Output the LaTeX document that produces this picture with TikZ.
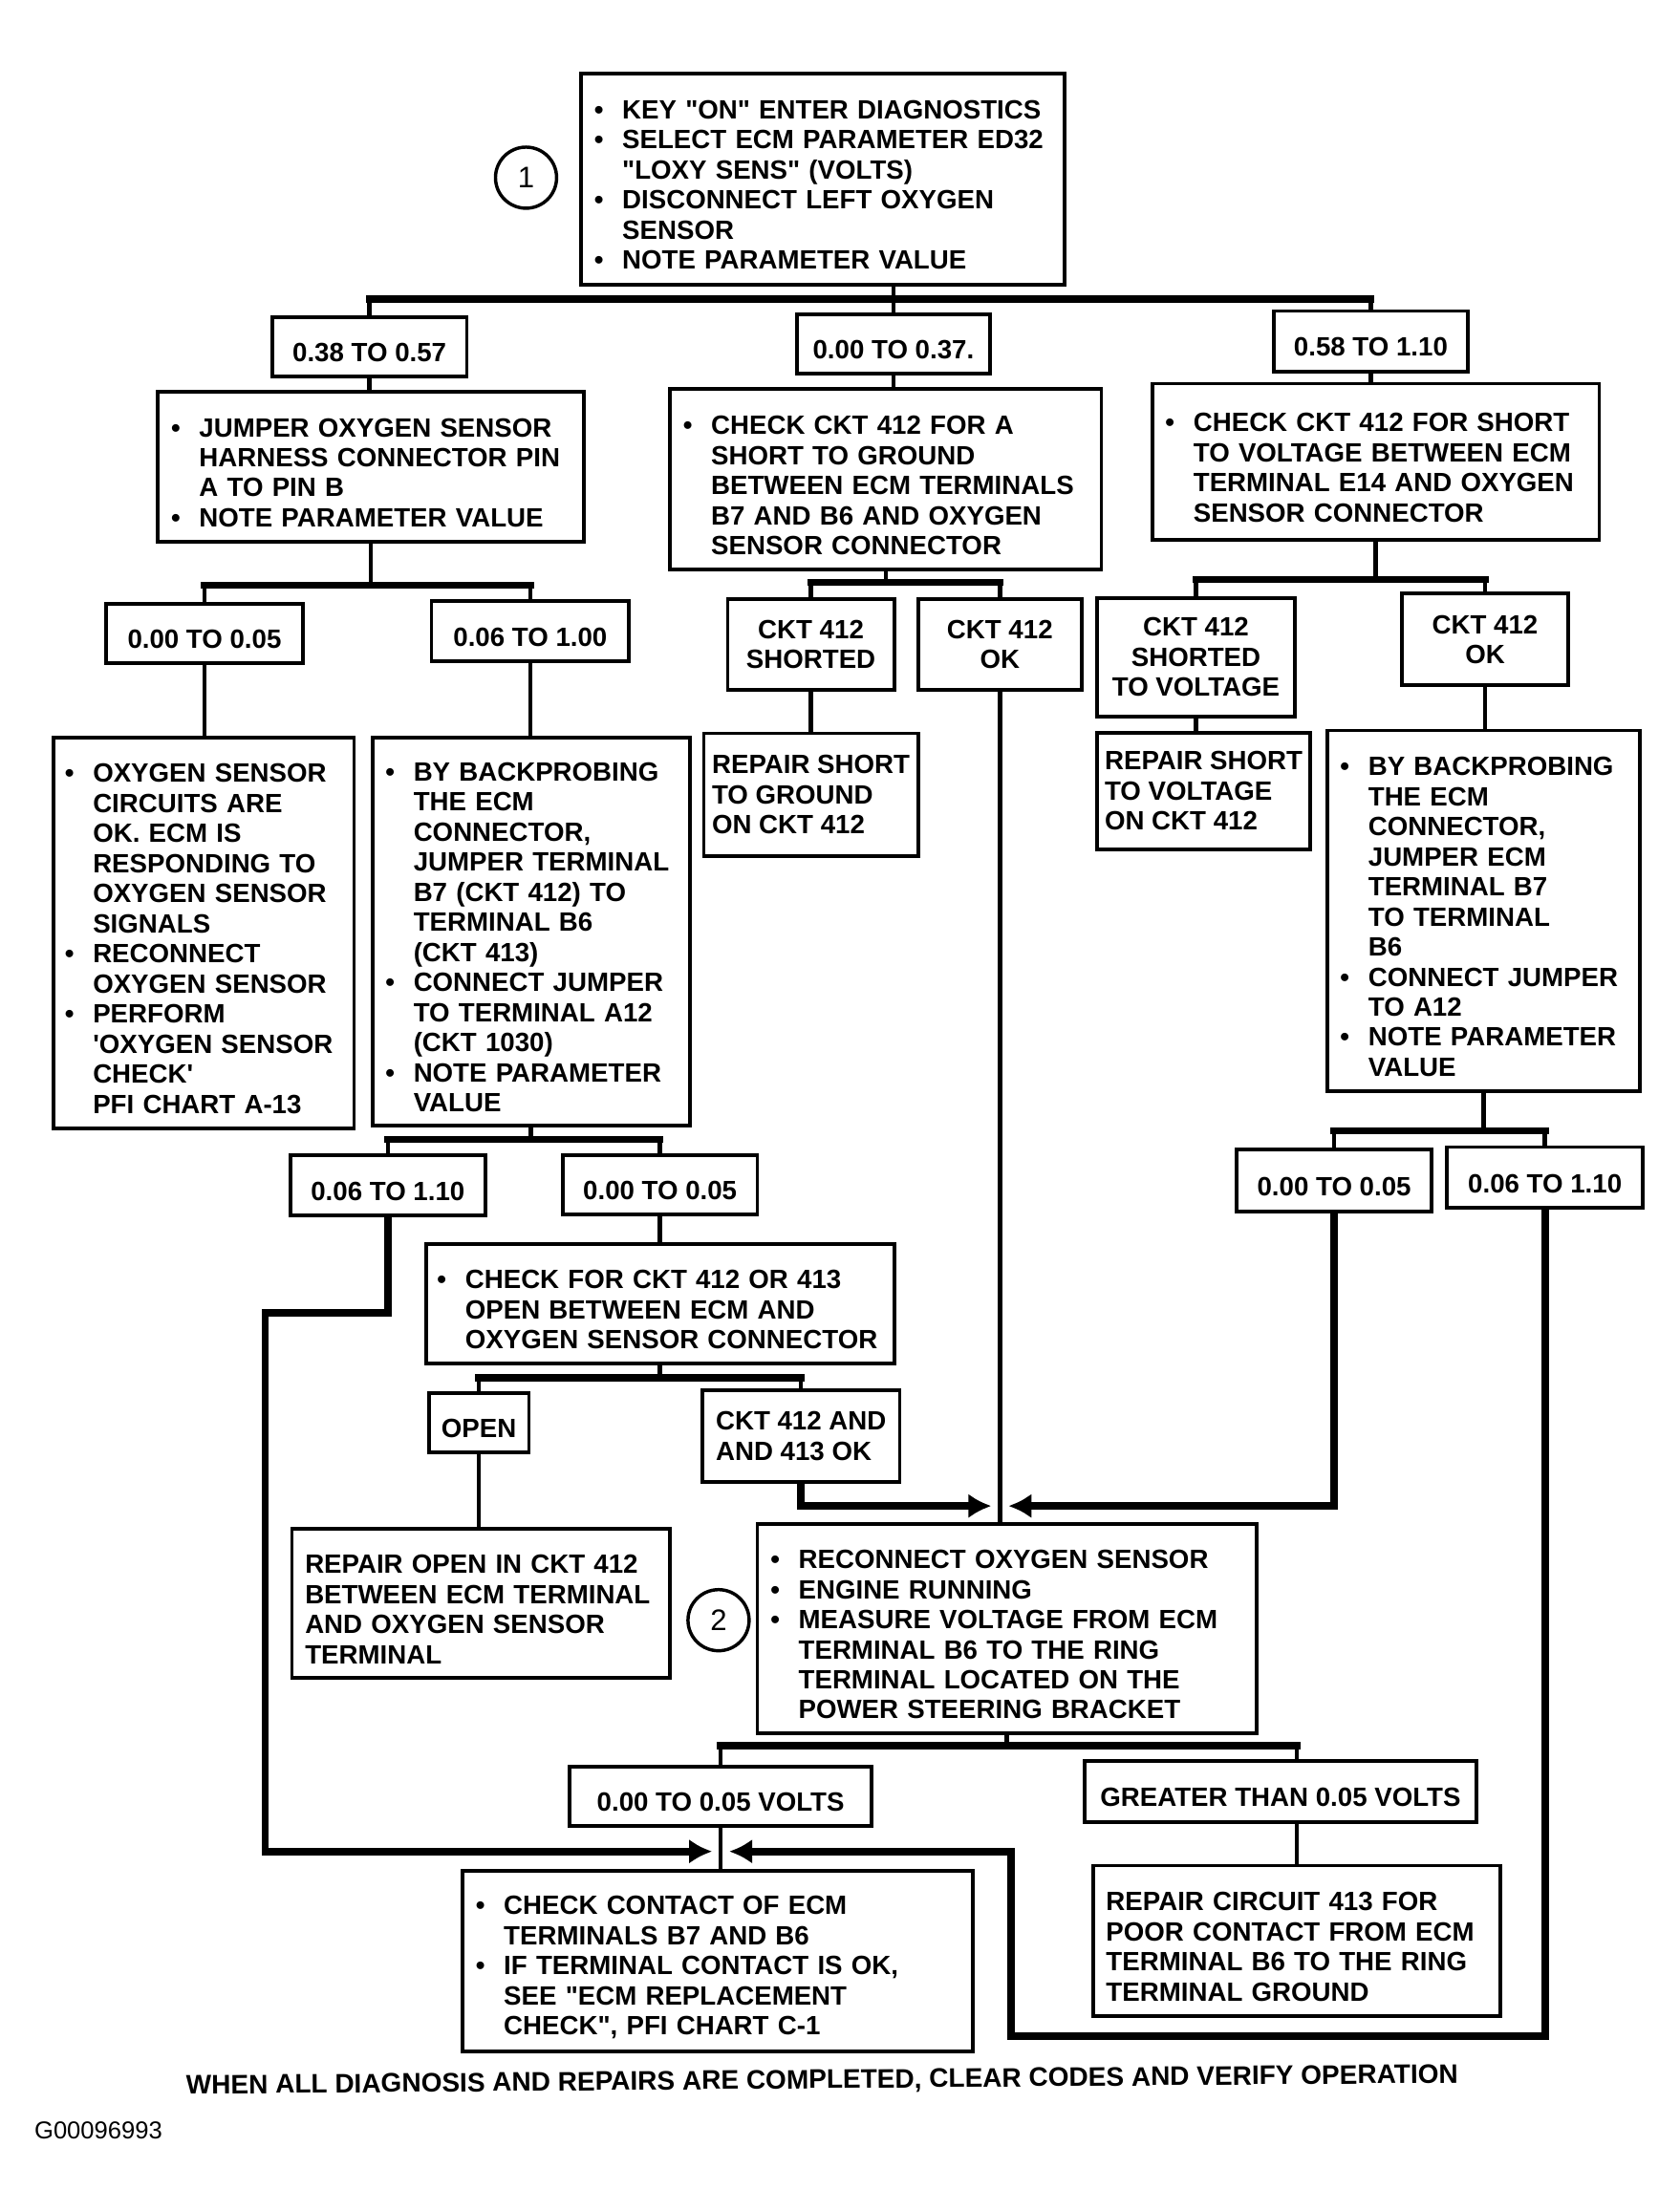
\documentclass[tikz,border=0pt]{standalone}
\usepackage{fontspec}
\setmainfont{Liberation Sans}
\usetikzlibrary{arrows.meta}

\newcommand{\blt}{\makebox[8.5pt][l]{\textbullet}}
\newcommand{\hng}{\hspace*{8.5pt}}
\newcommand{\dqt}{\textquotedbl}
\newcommand{\tstr}{\rule{0pt}{9.2pt}}

\begin{document}
\begin{tikzpicture}[
    x=0.15mm, y=-0.15mm,
    % Node styles
    chk/.style={
        rectangle,
        draw,
        line width=1.1pt,
        align=left,
        inner xsep=1.4mm,
        inner ysep=0pt,
        font=\fontsize{8}{9.1}\selectfont\bfseries,
        execute at begin node=\tstr
    },
    val/.style={
        rectangle,
        draw,
        line width=1.1pt,
        align=center,
        inner sep=0pt,
        font=\fontsize{8}{9.1}\selectfont\bfseries,
        execute at begin node=\tstr
    },
    num/.style={
        circle,
        draw,
        line width=1pt,
        minimum size=6.5mm,
        inner sep=0pt,
        font=\fontsize{9}{10}\selectfont
    },
    link/.style={line width=1.3pt},
    bar/.style={line width=2.2pt, line cap=rect},
    feed/.style={
        -{Latex[length=7pt,width=7.5pt]},
        line width=2.2pt,
        shorten >=0.9mm
    }
]
\useasboundingbox (0,0) rectangle (1191,1568);

% Position nodes
\node[chk, text width=48.65mm, minimum height=22.5mm] (top) at (583.5,127) {\blt KEY \dqt ON\dqt{} ENTER DIAGNOSTICS\\ \blt SELECT ECM PARAMETER ED32\\ \hng \dqt LOXY SENS\dqt{} (VOLTS)\\ \blt DISCONNECT LEFT OXYGEN\\ \hng SENSOR\\ \blt NOTE PARAMETER VALUE};
\node[num] (one) at (373,126) {1};

\node[val, minimum width=20.7mm, minimum height=6.3mm] (l1) at (262,246) {0.38 TO 0.57};
\node[val, minimum width=20.55mm, minimum height=6.3mm] (l2) at (633.5,244) {0.00 TO 0.37.};
\node[val, minimum width=20.7mm, minimum height=6.45mm] (l3) at (972,242) {0.58 TO 1.10};

\node[chk, text width=42.5mm, minimum height=15.9mm] (b1) at (263,331) {\blt JUMPER OXYGEN SENSOR\\ \hng HARNESS CONNECTOR PIN\\ \hng A TO PIN B\\ \blt NOTE PARAMETER VALUE};
\node[chk, text width=43.1mm, minimum height=19.2mm] (b2) at (628,340) {\blt CHECK CKT 412 FOR A\\ \hng SHORT TO GROUND\\ \hng BETWEEN ECM TERMINALS\\ \hng B7 AND B6 AND OXYGEN\\ \hng SENSOR CONNECTOR};
\node[chk, text width=44.75mm, minimum height=16.65mm] (b3) at (975.5,327.5) {\blt CHECK CKT 412 FOR SHORT\\ \hng TO VOLTAGE BETWEEN ECM\\ \hng TERMINAL E14 AND OXYGEN\\ \hng SENSOR CONNECTOR};

\node[val, minimum width=21mm, minimum height=6.3mm] (l4) at (145,449) {0.00 TO 0.05};
\node[val, minimum width=21mm, minimum height=6.45mm] (l5) at (376,447.5) {0.06 TO 1.00};
\node[val, minimum width=17.7mm, minimum height=9.6mm] (l6) at (575,457) {CKT 412\\ SHORTED};
\node[val, minimum width=17.4mm, minimum height=9.6mm] (l7) at (709,457) {CKT 412\\ OK};
\node[val, minimum width=21mm, minimum height=12.6mm] (l8) at (848,466) {CKT 412\\ SHORTED\\ TO VOLTAGE};
\node[val, minimum width=17.7mm, minimum height=9.75mm] (l9) at (1053,453.5) {CKT 412\\ OK};

\node[chk, inner xsep=1.2mm, text width=29.55mm, minimum height=41.55mm] (b4) at (144.5,661.5) {\blt OXYGEN SENSOR\\ \hng CIRCUITS ARE\\ \hng OK. ECM IS\\ \hng RESPONDING TO\\ \hng OXYGEN SENSOR\\ \hng SIGNALS\\ \blt RECONNECT\\ \hng OXYGEN SENSOR\\ \blt PERFORM\\ \hng \textquotesingle OXYGEN SENSOR\\ \hng CHECK\textquotesingle\\ \hng PFI CHART A-13};
\node[chk, text width=30.95mm, minimum height=41.25mm] (b5) at (376.5,660.5) {\blt BY BACKPROBING\\ \hng THE ECM\\ \hng CONNECTOR,\\ \hng JUMPER TERMINAL\\ \hng B7 (CKT 412) TO\\ \hng TERMINAL B6\\ \hng (CKT 413)\\ \blt CONNECT JUMPER\\ \hng TO TERMINAL A12\\ \hng (CKT 1030)\\ \blt NOTE PARAMETER\\ \hng VALUE};
\node[chk, inner xsep=0pt, minimum width=22.8mm, minimum height=13.05mm] (b6) at (575,563.5) {REPAIR SHORT\\ TO GROUND\\ ON CKT 412};
\node[chk, inner xsep=0pt, minimum width=22.65mm, minimum height=12.45mm] (b7) at (853.5,561) {REPAIR SHORT\\ TO VOLTAGE\\ ON CKT 412};
\node[chk, text width=30.5mm, minimum height=38.4mm] (b8) at (1052,646) {\blt BY BACKPROBING\\ \hng THE ECM\\ \hng CONNECTOR,\\ \hng JUMPER ECM\\ \hng TERMINAL B7\\ \hng TO TERMINAL\\ \hng B6\\ \blt CONNECT JUMPER\\ \hng TO A12\\ \blt NOTE PARAMETER\\ \hng VALUE};

\node[val, minimum width=20.7mm, minimum height=6.45mm] (l10) at (275,840.5) {0.06 TO 1.10};
\node[val, minimum width=20.7mm, minimum height=6.3mm] (l11) at (468,840) {0.00 TO 0.05};
\node[val, minimum width=20.7mm, minimum height=6.6mm] (l12) at (946,837) {0.00 TO 0.05};
\node[val, minimum width=20.85mm, minimum height=6.45mm] (l13) at (1095.5,835) {0.06 TO 1.10};

\node[chk, inner xsep=1.2mm, text width=47.4mm, minimum height=12.75mm] (b9) at (468,924.5) {\blt CHECK FOR CKT 412 OR 413\\ \hng OPEN BETWEEN ECM AND\\ \hng OXYGEN SENSOR CONNECTOR};
\node[val, minimum width=10.65mm, minimum height=6.3mm] (l14) at (339.5,1009) {OPEN};
\node[val, align=left, minimum width=21mm, minimum height=9.75mm] (l15) at (568,1018.5) {CKT 412 AND\\ AND 413 OK};
\node[chk, text width=37.4mm, minimum height=15.9mm] (b10) at (341,1137) {REPAIR OPEN IN CKT 412\\ BETWEEN ECM TERMINAL\\ AND OXYGEN SENSOR\\ TERMINAL};

\node[chk, text width=50.3mm, minimum height=22.2mm] (b11) at (714,1155) {\blt RECONNECT OXYGEN SENSOR\\ \blt ENGINE RUNNING\\ \blt MEASURE VOLTAGE FROM ECM\\ \hng TERMINAL B6 TO THE RING\\ \hng TERMINAL LOCATED ON THE\\ \hng POWER STEERING BRACKET};
\node[num] (two) at (509.5,1149) {2};

\node[val, minimum width=32.1mm, minimum height=6.3mm] (l16) at (511,1274) {0.00 TO 0.05 VOLTS};
\node[val, minimum width=41.7mm, minimum height=6.45mm] (l17) at (908,1270.5) {GREATER THAN 0.05 VOLTS};

\node[chk, text width=51.5mm, minimum height=19.2mm] (b12) at (509,1391) {\blt CHECK CONTACT OF ECM\\ \hng TERMINALS B7 AND B6\\ \blt IF TERMINAL CONTACT IS OK,\\ \hng SEE \dqt ECM REPLACEMENT\\ \hng CHECK\dqt, PFI CHART C-1};
\node[chk, text width=40.55mm, minimum height=16.05mm] (b13) at (919.5,1376.5) {REPAIR CIRCUIT 413 FOR\\ POOR CONTACT FROM ECM\\ TERMINAL B6 TO THE RING\\ TERMINAL GROUND};

\node[font=\fontsize{8.1}{9}\selectfont\bfseries, rotate=0.5] (note) at (583,1476) {WHEN ALL DIAGNOSIS AND REPAIRS ARE COMPLETED, CLEAR CODES AND VERIFY OPERATION};
\node[anchor=west, inner sep=0pt, font=\fontsize{7.4}{9}\selectfont] (gid) at (24,1511) {G00096993};

% junction points
\coordinate (ja) at (633.5,212);
\coordinate (jb) at (263,415);
\coordinate (jc) at (628,413);
\coordinate (jd) at (975.5,411);
\coordinate (je) at (376.5,808);
\coordinate (jf) at (1052,802);
\coordinate (jg) at (468,977);
\coordinate (jh) at (714,1238);
\coordinate (m1) at (709,1068);
\coordinate (m2) at (511,1313);
\coordinate (k1) at (188,931);
\coordinate (k2) at (717,1444);

% draw connectors
\draw[link] (top.south -| l2) -- (l2.north);
\draw[bar] (ja -| l1) -- (ja -| l3);
\draw[link] (ja -| l1) -- (l1.north);
\draw[link] (ja -| l3) -- (l3.north);

\draw[link] (l1.south) -- (l1.south |- b1.north);
\draw[link] (l2.south) -- (l2.south |- b2.north);
\draw[link] (l3.south) -- (l3.south |- b3.north);

\draw[link] (b1.south) -- (jb);
\draw[bar] (jb -| l4) -- (jb -| l5);
\draw[link] (jb -| l4) -- (l4.north);
\draw[link] (jb -| l5) -- (l5.north);

\draw[link] (b2.south) -- (jc);
\draw[bar] (jc -| l6) -- (jc -| l7);
\draw[link] (jc -| l6) -- (l6.north);
\draw[link] (jc -| l7) -- (l7.north);

\draw[link] (b3.south) -- (jd);
\draw[bar] (jd -| l8) -- (jd -| l9);
\draw[link] (jd -| l8) -- (l8.north);
\draw[link] (jd -| l9) -- (l9.north);

\draw[link] (l4.south) -- (l4.south |- b4.north);
\draw[link] (l5.south) -- (l5.south |- b5.north);
\draw[link] (l6.south) -- (l6.south |- b6.north);
\draw[link] (l7.south) -- (l7.south |- b11.north);
\draw[link] (l8.south) -- (l8.south |- b7.north);
\draw[link] (l9.south) -- (l9.south |- b8.north);

\draw[link] (b5.south) -- (je);
\draw[bar] (je -| l10) -- (je -| l11);
\draw[link] (je -| l10) -- (l10.north);
\draw[link] (je -| l11) -- (l11.north);

\draw[link] (b8.south) -- (jf);
\draw[bar] (jf -| l12) -- (jf -| l13);
\draw[link] (jf -| l12) -- (l12.north);
\draw[link] (jf -| l13) -- (l13.north);

\draw[link] (l11.south) -- (l11.south |- b9.north);
\draw[link] (b9.south) -- (jg);
\draw[bar] (jg -| l14) -- (jg -| l15);
\draw[link] (jg -| l14) -- (l14.north);
\draw[link] (jg -| l15) -- (l15.north);
\draw[link] (l14.south) -- (l14.south |- b10.north);

\draw[link] (b11.south) -- (jh);
\draw[bar] (jh -| l16) -- (jh -| b13);
\draw[link] (jh -| l16) -- (l16.north);
\draw[link] (jh -| b13) -- (b13 |- l17.north);
\draw[link] (l16.south) -- (l16.south |- b12.north);
\draw[link] (l17.south -| b13) -- (b13.north);

% feed arrows
\draw[feed] (l15.south) |- (m1);
\draw[feed] (l12.south) |- (m1);
\draw[feed] (l10.south) |- (k1) |- (m2);
\draw[feed] (l13.south) |- (k2) |- (m2);

\end{tikzpicture}
\end{document}
